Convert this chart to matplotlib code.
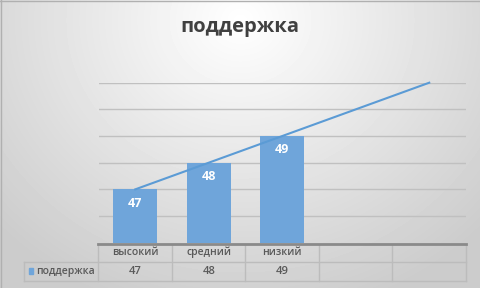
import matplotlib

matplotlib.use("Agg")
import matplotlib.pyplot as plt  # noqa: E402
import numpy as np  # noqa: E402

title = "поддержка"
series_name = "поддержка"
categories = ["высокий", "средний", "низкий", "", ""]
values = [47, 48, 49]
y_min, y_max = 45, 51

W, H = 481, 288
bar_color = "#6fa5da"
line_color = "#5b9bd5"
grid_color = "#c0c0c0"
text_color = "#595959"

plt.rcParams["font.family"] = ["Open Sans", "DejaVu Sans"]

fig = plt.figure(figsize=(W / 100, H / 100), dpi=100)

# background: soft radial gradient, light at top centre, grey at the edges
bg = fig.add_axes([0, 0, 1, 1])
yy, xx = np.mgrid[0:H, 0:W]
r = np.sqrt(((xx - 240) / 330) ** 2 + ((yy - 20) / 300) ** 2)
shade = np.clip(1.0 - 0.2 * r, 0.80, 1.0)
bg.imshow(shade, cmap="gray", vmin=0, vmax=1, extent=[0, W, H, 0], aspect="auto")
bg.set_xlim(0, W)
bg.set_ylim(H, 0)
bg.axis("off")
bg.plot([0, W], [1, 1], color="#b0b0b0", lw=1)
bg.plot([1, 1], [0, H], color="#b0b0b0", lw=1)

# plot area in pixel terms
left_px, right_px = 98.5, 466.0
top_px, bottom_px = 82.7, 242.7
ax = fig.add_axes([left_px / W, 1 - bottom_px / H,
                   (right_px - left_px) / W, (bottom_px - top_px) / H])
ax.patch.set_alpha(0)
x = np.arange(len(categories))
ax.set_xlim(-0.5, len(categories) - 0.5)
ax.set_ylim(y_min, y_max)
ax.set_yticks(np.arange(y_min + 1, y_max + 1))
ax.grid(axis="y", color=grid_color, lw=1)
ax.set_axisbelow(True)
ax.tick_params(left=False, bottom=False, labelleft=False, labelbottom=False)
for s in ax.spines.values():
    s.set_visible(False)

ax.bar(x[:len(values)], values, width=0.6, color=bar_color, zorder=2)
for xi, v in zip(x, values):
    ax.text(xi, v - 0.52, str(v), ha="center", va="center", color="white",
            fontsize=9, fontweight="bold", zorder=4)

# linear trendline across all categories
k, b = np.polyfit(x[:len(values)], values, 1)
ax.plot([x[0], x[-1]], [k * x[0] + b, k * x[-1] + b], color=line_color,
        lw=1.5, zorder=3, clip_on=False)

# data table under the plot
bg.plot([left_px, right_px], [bottom_px + 1, bottom_px + 1], color="#8a8a8a", lw=2, zorder=5)
step = (right_px - left_px) / len(categories)
row1, row2 = 262.3, 281.0
lab_left = 24.0
tc = "#bcbcbc"
for i in range(len(categories) + 1):
    xp = left_px + i * step
    bg.plot([xp, xp], [bottom_px + 2, row2], color=tc, lw=1)
bg.plot([lab_left, right_px], [row1, row1], color=tc, lw=1)
bg.plot([lab_left, right_px], [row2, row2], color=tc, lw=1)
bg.plot([lab_left, lab_left], [row1, row2], color=tc, lw=1)
for i, c in enumerate(categories):
    cx = left_px + (i + 0.5) * step
    bg.text(cx, 252.5, c, ha="center", va="center", fontsize=7.5,
            fontweight="semibold", color=text_color)
for i, v in enumerate(values):
    cx = left_px + (i + 0.5) * step
    bg.text(cx, 272, str(v), ha="center", va="center", fontsize=8,
            fontweight="semibold", color=text_color)
bg.add_patch(plt.Rectangle((29, 268), 4.5, 6, color=bar_color))
bg.text(36, 271.5, series_name, ha="left", va="center", fontsize=7.5,
        fontweight="semibold", color=text_color)

bg.text(240, 27, title, ha="center", va="center", fontsize=14.5,
        fontweight="bold", color="#404040")

fig.savefig("out.png", dpi=100)
